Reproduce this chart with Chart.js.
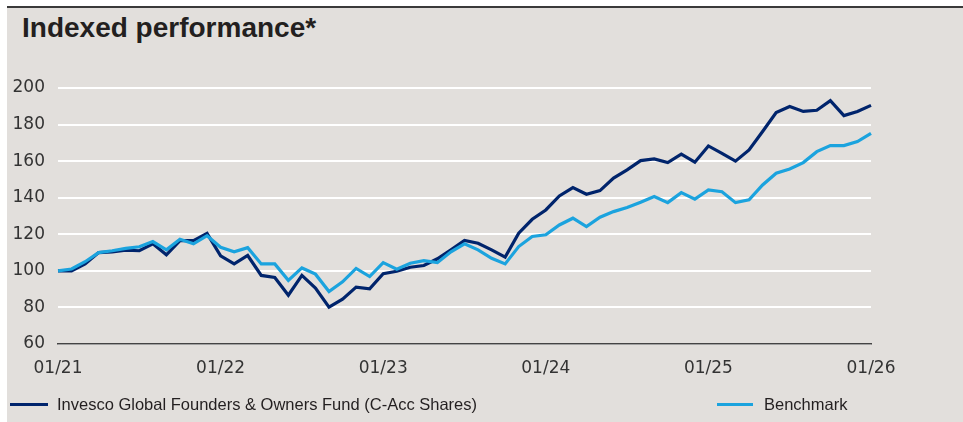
<!DOCTYPE html>
<html>
<head>
<meta charset="utf-8">
<script src="https://cdn.jsdelivr.net/npm/chart.js@4/dist/chart.umd.min.js"></script>
<style>
  html, body { margin: 0; padding: 0; background: #ffffff; }
  body { width: 963px; height: 422px; position: relative; overflow: hidden; }
  .topline { position: absolute; left: 7px; top: 6px; width: 956px; height: 2px; background: #3a3a3a; }
  .panel { position: absolute; left: 7px; top: 8px; width: 956px; height: 414px; background: #e2dfdc; }
  .title { position: absolute; left: 22px; top: 12px; font: bold 28px "Liberation Sans", Arial, sans-serif; color: #231f20; }
  .chart-box { position: absolute; left: 0; top: 0; width: 963px; height: 422px; }
  .legend-item { position: absolute; top: 394px; font: 16.5px "Liberation Sans", Arial, sans-serif; color: #231f20; line-height: 20px; }
  .legend-item .swatch { position: absolute; top: 9px; height: 3px; }
</style>
</head>
<body>
<div class="topline"></div>
<div class="panel"></div>
<div class="title">Indexed performance*</div>
<div class="chart-box"><canvas id="grafico"></canvas></div>
<div class="legend-item" id="legFund" style="left:57px;"><span class="swatch" style="left:-47px;width:38px;background:#00246c;"></span>Invesco Global Founders &amp; Owners Fund (C-Acc Shares)</div>
<div class="legend-item" id="legBench" style="left:764px;"><span class="swatch" style="left:-47px;width:36px;background:#1ba3de;"></span>Benchmark</div>
<script>
// categorias mensais 01/21 .. 01/26
const meses = [
  '01/21','02/21','03/21','04/21','05/21','06/21','07/21','08/21','09/21','10/21','11/21','12/21',
  '01/22','02/22','03/22','04/22','05/22','06/22','07/22','08/22','09/22','10/22','11/22','12/22',
  '01/23','02/23','03/23','04/23','05/23','06/23','07/23','08/23','09/23','10/23','11/23','12/23',
  '01/24','02/24','03/24','04/24','05/24','06/24','07/24','08/24','09/24','10/24','11/24','12/24',
  '01/25','02/25','03/25','04/25','05/25','06/25','07/25','08/25','09/25','10/25','11/25','12/25',
  '01/26'
];
const tickLabels = ['01/21', '01/22', '01/23', '01/24', '01/25', '01/26'];

const fundo = [
  100, 100, 103.8, 110, 110.4, 111.3, 111, 114.8, 108.8, 116.5, 116.5, 120.5,
  108.2, 103.8, 108.4, 97.5, 96.4, 86.7, 97.5, 90.6, 80.2, 84.5, 91.1, 90.2,
  98.4, 99.8, 102, 102.9, 106.6, 111.5, 116.6, 115.1, 111.5, 107.5, 120.6, 128.2,
  133.3, 141, 145.5, 141.9, 143.9, 150.7, 155.2, 160.3, 161.2, 159.2, 163.8, 159.4,
  168.3, 164.3, 160, 166.1, 176.2, 186.6, 189.9, 187.2, 187.8, 193.1, 184.9, 187.2,
  190.5
];
const benchmark = [
  100, 101, 105, 110, 111, 112.3, 113.2, 116, 111.5, 117.3, 114.8, 119.2,
  112.9, 110.4, 112.7, 103.8, 103.8, 94.8, 101.6, 98.2, 88.7, 94, 101.3, 96.9,
  104.5, 100.9, 104.2, 105.6, 104.5, 110.4, 114.8, 111.5, 106.9, 103.8, 113.3, 118.8,
  119.7, 125.1, 128.8, 124.2, 129.3, 132.4, 134.6, 137.5, 140.6, 137.3, 142.8, 139.2,
  144.3, 143.3, 137.3, 138.8, 147, 153.4, 155.7, 159.2, 165.2, 168.5, 168.5, 170.7,
  175.2
];
const yTicks = [60, 80, 100, 120, 140, 160, 180, 200];

const corFundo = '#00246c';
const corBench = '#1ba3de';
const fonteEixo = { family: '"DejaVu Sans", Verdana, sans-serif', size: 17 };

new Chart(document.getElementById('grafico').getContext('2d'), {
  type: 'line',
  data: {
    labels: meses,
    datasets: [
      { label: 'Invesco Global Founders & Owners Fund (C-Acc Shares)', data: fundo, borderColor: corFundo, borderWidth: 3.2, pointRadius: 0, tension: 0, order: 2 },
      { label: 'Benchmark', data: benchmark, borderColor: corBench, borderWidth: 3.2, pointRadius: 0, tension: 0, order: 1 }
    ]
  },
  options: {
    responsive: true,
    maintainAspectRatio: false,
    animation: false,
    layout: { padding: { left: 0, right: 92, top: 88, bottom: 38 } },
    plugins: { legend: { display: false }, tooltip: { enabled: false } },
    scales: {
      x: {
        grid: { display: false, drawTicks: false },
        border: { display: true, color: '#444444', width: 1.5 },
        ticks: {
          autoSkip: false, maxRotation: 0, padding: 14, color: '#333333', font: fonteEixo,
          callback: function(val, i) {
            const m = meses[i];
            return tickLabels.includes(m) ? m : null;
          }
        },
        afterFit: function(scale) { scale.height = 40; }
      },
      y: {
        min: 60, max: 200,
        afterBuildTicks: function(scale) { scale.ticks = yTicks.map(v => ({ value: v })); },
        grid: { color: '#ffffff', lineWidth: 2, drawTicks: false },
        border: { display: false },
        ticks: { padding: 13, color: '#333333', font: fonteEixo },
        afterFit: function(scale) { scale.width = 58; }
      }
    }
  }
});
</script>
</body>
</html>
